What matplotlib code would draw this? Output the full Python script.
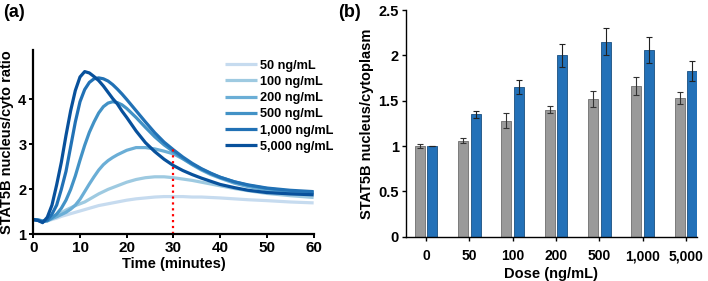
import matplotlib
matplotlib.use('Agg')
import matplotlib.pyplot as plt
import numpy as np

# ---- panel (a): time course ----
time_min = [0, 1, 2, 3, 4, 5, 6, 7, 8, 9, 10, 11, 12, 13, 14, 15, 16, 17, 18, 19, 20,
            22, 24, 26, 28, 30, 32, 34, 36, 38, 40, 43, 46, 50, 55, 60]

ratio_50 = [1.33, 1.32, 1.30, 1.30, 1.33, 1.36, 1.40, 1.43, 1.46, 1.49, 1.52, 1.55, 1.58, 1.61,
            1.64, 1.66, 1.68, 1.70, 1.72, 1.74, 1.76,
            1.79, 1.81, 1.83, 1.84, 1.84, 1.84, 1.83, 1.83, 1.82, 1.81, 1.79, 1.77, 1.75, 1.72, 1.70]
ratio_100 = [1.33, 1.32, 1.30, 1.30, 1.35, 1.42, 1.48, 1.54, 1.59, 1.64, 1.68, 1.72, 1.78, 1.84,
             1.90, 1.95, 2.00, 2.04, 2.08, 2.12, 2.16,
             2.22, 2.26, 2.28, 2.28, 2.26, 2.23, 2.20, 2.16, 2.12, 2.08, 2.02, 1.97, 1.91, 1.86, 1.82]
ratio_200 = [1.33, 1.32, 1.30, 1.31, 1.35, 1.39, 1.44, 1.49, 1.56, 1.65, 1.78, 1.95, 2.12, 2.28,
             2.43, 2.55, 2.64, 2.71, 2.77, 2.82, 2.87,
             2.93, 2.93, 2.90, 2.85, 2.79, 2.68, 2.55, 2.43, 2.33, 2.25, 2.14, 2.06, 1.99, 1.93, 1.90]
ratio_500 = [1.33, 1.32, 1.29, 1.30, 1.37, 1.45, 1.58, 1.76, 2.00, 2.30, 2.65, 2.98, 3.27, 3.50,
             3.70, 3.84, 3.92, 3.95, 3.93, 3.88, 3.80,
             3.60, 3.38, 3.17, 2.99, 2.84, 2.69, 2.56, 2.45, 2.35, 2.27, 2.17, 2.09, 2.02, 1.96, 1.93]
ratio_1000 = [1.33, 1.31, 1.28, 1.32, 1.45, 1.65, 2.00, 2.40, 2.95, 3.50, 3.95, 4.22, 4.38, 4.46,
              4.48, 4.46, 4.41, 4.33, 4.23, 4.12, 4.00,
              3.75, 3.50, 3.26, 3.05, 2.88, 2.72, 2.58, 2.46, 2.36, 2.27, 2.17, 2.10, 2.03, 1.98, 1.95]
ratio_5000 = [1.33, 1.31, 1.26, 1.38, 1.65, 2.10, 2.60, 3.20, 3.75, 4.20, 4.50, 4.62, 4.59, 4.51,
              4.42, 4.30, 4.16, 4.02, 3.90, 3.74, 3.60,
              3.30, 3.04, 2.84, 2.67, 2.53, 2.42, 2.33, 2.25, 2.18, 2.11, 2.04, 1.98, 1.93, 1.90, 1.88]

dose_labels_a = ['50 ng/mL', '100 ng/mL', '200 ng/mL', '500 ng/mL', '1,000 ng/mL', '5,000 ng/mL']
line_colors = ['#c6dbef', '#9ecae1', '#6baed6', '#4292c6', '#2171b5', '#08519c']
marker_time = 30
marker_top = 2.97

# ---- panel (b): dose response bars ----
doses = ['0', '50', '100', '200', '500', '1,000', '5,000']
gray_mean = [1.00, 1.06, 1.28, 1.40, 1.52, 1.66, 1.53]
gray_err = [0.02, 0.03, 0.08, 0.04, 0.09, 0.10, 0.07]
blue_mean = [1.00, 1.35, 1.65, 2.00, 2.15, 2.06, 1.83]
blue_err = [0.0, 0.04, 0.08, 0.13, 0.15, 0.14, 0.11]

plt.rcParams['font.family'] = ['Liberation Sans', 'DejaVu Sans']
plt.rcParams['font.weight'] = 'bold'

fig = plt.figure(figsize=(7.08, 2.81), dpi=100)

# (a)
ax1 = fig.add_axes([0.047, 0.166, 0.396, 0.656])
series = [ratio_50, ratio_100, ratio_200, ratio_500, ratio_1000, ratio_5000]
for vals, lab, col in zip(series, dose_labels_a, line_colors):
    ax1.plot(time_min, vals, color=col, lw=2.3, label=lab, solid_capstyle='butt')
ax1.plot([marker_time, marker_time], [1, marker_top], color='red', ls=':', lw=1.6)
ax1.set_xlim(0, 60)
ax1.set_ylim(1, 5.1)
ax1.set_xticks(range(0, 61, 10))
ax1.set_yticks([1, 2, 3, 4])
ax1.spines['top'].set_visible(False)
ax1.spines['right'].set_visible(False)
ax1.spines['left'].set_linewidth(1.6)
ax1.spines['bottom'].set_linewidth(1.6)
ax1.tick_params(width=1.4, length=3, labelsize=10.5, pad=2)
ax1.tick_params(axis='x', labelsize=11)
ax1.set_xlabel('Time (minutes)', fontsize=10.5, fontweight='bold', labelpad=1)
ax1.set_ylabel('STAT5B nucleus/cyto ratio', fontsize=10.5, fontweight='bold', labelpad=3)
leg = ax1.legend(loc='upper right', bbox_to_anchor=(1.09, 0.975), frameon=False, fontsize=9.2,
                 handlelength=2.5, handletextpad=0.3, labelspacing=0.33, borderaxespad=0)
for t in leg.get_texts():
    t.set_fontweight('bold')
fig.text(0.005, 0.955, '(a)', fontsize=13, fontweight='bold', va='center')

# (b)
ax2 = fig.add_axes([0.573, 0.158, 0.411, 0.806])
x = np.arange(len(doses))
w = 0.23
ax2.bar(x - 0.145, gray_mean, w, color='#9a9a9a', edgecolor='#6e6e6e', linewidth=0.6,
        yerr=gray_err, error_kw=dict(ecolor='#333333', elinewidth=0.8, capsize=2.5, capthick=0.8))
ax2.bar(x + 0.145, blue_mean, w, color='#2371b8', edgecolor='#1a4f80', linewidth=0.6,
        yerr=blue_err, error_kw=dict(ecolor='#222222', elinewidth=0.8, capsize=2.5, capthick=0.8))
ax2.set_xlim(-0.47, 6.25)
ax2.set_ylim(0, 2.5)
ax2.set_xticks(x)
ax2.set_xticklabels(doses)
ax2.set_yticks([0, 0.5, 1, 1.5, 2, 2.5])
ax2.set_yticklabels(['0', '0.5', '1', '1.5', '2', '2.5'])
ax2.spines['top'].set_visible(False)
ax2.spines['right'].set_visible(False)
ax2.spines['left'].set_linewidth(1.0)
ax2.spines['bottom'].set_linewidth(1.0)
ax2.tick_params(width=1.0, length=3, labelsize=10.5, pad=2)
ax2.tick_params(axis='x', labelsize=10, pad=6)
ax2.set_xlabel('Dose (ng/mL)', fontsize=10.5, fontweight='bold', labelpad=3)
ax2.set_ylabel('STAT5B nucleus/cytoplasm', fontsize=10.5, fontweight='bold', labelpad=3)
fig.text(0.477, 0.955, '(b)', fontsize=13, fontweight='bold', va='center')

fig.savefig('out.png', dpi=100)
